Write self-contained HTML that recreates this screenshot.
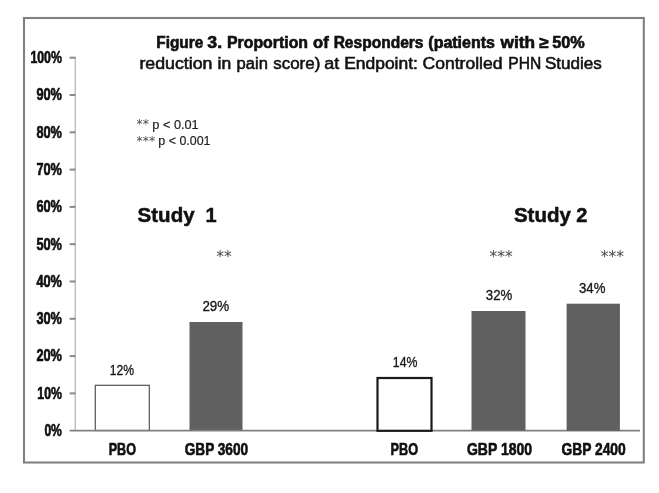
<!DOCTYPE html>
<html lang="en">
<head>
<meta charset="utf-8">
<title>Figure 3. Proportion of Responders</title>
<style>
html,body{margin:0;padding:0;background:#fff;}
body{width:659px;height:493px;overflow:hidden;}
svg{display:block;filter:blur(0.45px);}
text{font-family:"Liberation Sans",sans-serif;fill:#111;}
.ax{font-weight:bold;font-size:16.5px;fill:#0a0a0a;stroke:#0a0a0a;stroke-width:0.65px;}
.val{font-size:15.5px;fill:#222;stroke:#222;stroke-width:0.35px;}
.cat{font-weight:bold;font-size:16.5px;fill:#0a0a0a;stroke:#0a0a0a;stroke-width:0.6px;}
.star,.star text{font-family:"DejaVu Sans","Liberation Sans",sans-serif;font-size:15.5px;fill:#4a4a4a;stroke:none;}
.study{font-weight:bold;font-size:20px;fill:#111;stroke:#111;stroke-width:0.5px;}
.leg{font-size:13px;fill:#222;stroke:#222;stroke-width:0.2px;}
</style>
</head>
<body>
<svg width="659" height="493" viewBox="0 0 659 493">
<rect x="0" y="0" width="659" height="493" fill="#fff"/>
<!-- frame -->
<rect x="24" y="18" width="619.8" height="444.5" fill="none" stroke="#808080" stroke-width="2.1"/>
<!-- title -->
<text y="47.9" font-size="16" font-weight="bold" fill="#0a0a0a" stroke="#0a0a0a" stroke-width="0.6"><tspan x="156.30" textLength="46.98" lengthAdjust="spacingAndGlyphs">Figure</tspan> <tspan x="207.30" textLength="14.76" lengthAdjust="spacingAndGlyphs">3.</tspan> <tspan x="226.98" textLength="81.08" lengthAdjust="spacingAndGlyphs">Proportion</tspan> <tspan x="313.08" textLength="15.62" lengthAdjust="spacingAndGlyphs">of</tspan> <tspan x="333.64" textLength="89.86" lengthAdjust="spacingAndGlyphs">Responders</tspan> <tspan x="428.32" textLength="66.62" lengthAdjust="spacingAndGlyphs">(patients</tspan> <tspan x="500.56" textLength="34.50" lengthAdjust="spacingAndGlyphs">with</tspan> <tspan x="539.54" textLength="9.30" lengthAdjust="spacingAndGlyphs">≥</tspan> <tspan x="552.30" textLength="32.52" lengthAdjust="spacingAndGlyphs">50%</tspan></text>
<text y="69.1" font-size="16" stroke="#111" stroke-width="0.55"><tspan x="139.40" textLength="73.00" lengthAdjust="spacingAndGlyphs">reduction</tspan> <tspan x="217.64" textLength="13.64" lengthAdjust="spacingAndGlyphs">in</tspan> <tspan x="236.64" textLength="31.30" lengthAdjust="spacingAndGlyphs">pain</tspan> <tspan x="273.30" textLength="46.98" lengthAdjust="spacingAndGlyphs">score)</tspan> <tspan x="324.32" textLength="14.94" lengthAdjust="spacingAndGlyphs">at</tspan> <tspan x="344.18" textLength="73.68" lengthAdjust="spacingAndGlyphs">Endpoint:</tspan> <tspan x="422.64" textLength="79.76" lengthAdjust="spacingAndGlyphs">Controlled</tspan> <tspan x="508.30" textLength="32.88" lengthAdjust="spacingAndGlyphs">PHN</tspan> <tspan x="544.96" textLength="56.88" lengthAdjust="spacingAndGlyphs">Studies</tspan></text>
<!-- y axis -->
<line x1="75.3" y1="57" x2="75.3" y2="431" stroke="#bdbdbd" stroke-width="1.4"/>
<g stroke="#8a8a8a" stroke-width="2" fill="none">
<line x1="69.6" y1="57.7" x2="75.5" y2="57.7"/>
<line x1="69.6" y1="95.0" x2="75.5" y2="95.0"/>
<line x1="69.6" y1="132.3" x2="75.5" y2="132.3"/>
<line x1="69.6" y1="169.6" x2="75.5" y2="169.6"/>
<line x1="69.6" y1="206.9" x2="75.5" y2="206.9"/>
<line x1="69.6" y1="244.2" x2="75.5" y2="244.2"/>
<line x1="69.6" y1="281.5" x2="75.5" y2="281.5"/>
<line x1="69.6" y1="318.8" x2="75.5" y2="318.8"/>
<line x1="69.6" y1="356.1" x2="75.5" y2="356.1"/>
<line x1="69.6" y1="393.4" x2="75.5" y2="393.4"/>
</g>
<g class="ax" text-anchor="end">
<text x="61.9" y="63.0" textLength="31.5" lengthAdjust="spacingAndGlyphs">100%</text>
<text x="61.9" y="100.3" textLength="25.5" lengthAdjust="spacingAndGlyphs">90%</text>
<text x="61.9" y="137.6" textLength="25.5" lengthAdjust="spacingAndGlyphs">80%</text>
<text x="61.9" y="174.9" textLength="25.5" lengthAdjust="spacingAndGlyphs">70%</text>
<text x="61.9" y="212.2" textLength="25.5" lengthAdjust="spacingAndGlyphs">60%</text>
<text x="61.9" y="249.5" textLength="25.5" lengthAdjust="spacingAndGlyphs">50%</text>
<text x="61.9" y="286.8" textLength="25.5" lengthAdjust="spacingAndGlyphs">40%</text>
<text x="61.9" y="324.1" textLength="25.5" lengthAdjust="spacingAndGlyphs">30%</text>
<text x="61.9" y="361.4" textLength="25.5" lengthAdjust="spacingAndGlyphs">20%</text>
<text x="61.9" y="398.7" textLength="24.6" lengthAdjust="spacingAndGlyphs">10%</text>
<text x="61.9" y="436.0" textLength="17.5" lengthAdjust="spacingAndGlyphs">0%</text>
</g>
<!-- legend -->
<text class="leg" y="128.6"><tspan class="star" x="136.6" dy="-0.8" style="font-size:12.4px">** </tspan><tspan x="152.3" dy="0.8" textLength="46.4" lengthAdjust="spacingAndGlyphs">p &lt; 0.01</tspan></text>
<text class="leg" y="145.3"><tspan class="star" x="136.6" dy="-0.8" style="font-size:12.4px">*** </tspan><tspan x="158.3" dy="0.8" textLength="52.2" lengthAdjust="spacingAndGlyphs">p &lt; 0.001</tspan></text>
<!-- study labels -->
<text class="study" y="221.6"><tspan x="137.6" textLength="57" lengthAdjust="spacingAndGlyphs">Study</tspan> <tspan x="205.5">1</tspan></text>
<text class="study" y="221.6"><tspan x="513.9" textLength="57" lengthAdjust="spacingAndGlyphs">Study</tspan> <tspan x="576.3">2</tspan></text>
<!-- bars -->
<rect x="95.3" y="385.3" width="54" height="45.2" fill="#fff" stroke="#555" stroke-width="1.2"/>
<rect x="189.5" y="322" width="53" height="108.5" fill="#606060"/>
<line x1="69.6" y1="430.7" x2="640" y2="430.7" stroke="#808080" stroke-width="1.8"/>
<rect x="377.5" y="378" width="54" height="52.8" fill="#fff" stroke="#1a1a1a" stroke-width="2.2"/>
<rect x="471.5" y="311" width="54" height="119.5" fill="#606060"/>
<rect x="566.6" y="303.7" width="53.3" height="127" fill="#606060"/>
<!-- stars -->
<g class="star" text-anchor="middle">
<text x="224" y="262.4">**</text>
<text x="501" y="262.4">***</text>
<text x="612.3" y="262.4">***</text>
</g>
<!-- values -->
<g class="val" text-anchor="middle">
<text x="122" y="374.7" textLength="24.3" lengthAdjust="spacingAndGlyphs">12%</text>
<text x="215.8" y="310.6" textLength="26.8" lengthAdjust="spacingAndGlyphs">29%</text>
<text x="405.1" y="367.1" textLength="24.6" lengthAdjust="spacingAndGlyphs">14%</text>
<text x="499" y="299.6" textLength="26.4" lengthAdjust="spacingAndGlyphs">32%</text>
<text x="592.2" y="292.6" textLength="26.4" lengthAdjust="spacingAndGlyphs">34%</text>
</g>
<!-- categories -->
<g class="cat" text-anchor="middle">
<text x="122.3" y="455.3" textLength="27.3" lengthAdjust="spacingAndGlyphs">PBO</text>
<text x="216.4" y="455.3" textLength="63.4" lengthAdjust="spacingAndGlyphs">GBP 3600</text>
<text x="404.4" y="455.3" textLength="27.6" lengthAdjust="spacingAndGlyphs">PBO</text>
<text x="499.5" y="455.3" textLength="65" lengthAdjust="spacingAndGlyphs">GBP 1800</text>
<text x="593.6" y="455.3" textLength="64.2" lengthAdjust="spacingAndGlyphs">GBP 2400</text>
</g>
</svg>
</body>
</html>
